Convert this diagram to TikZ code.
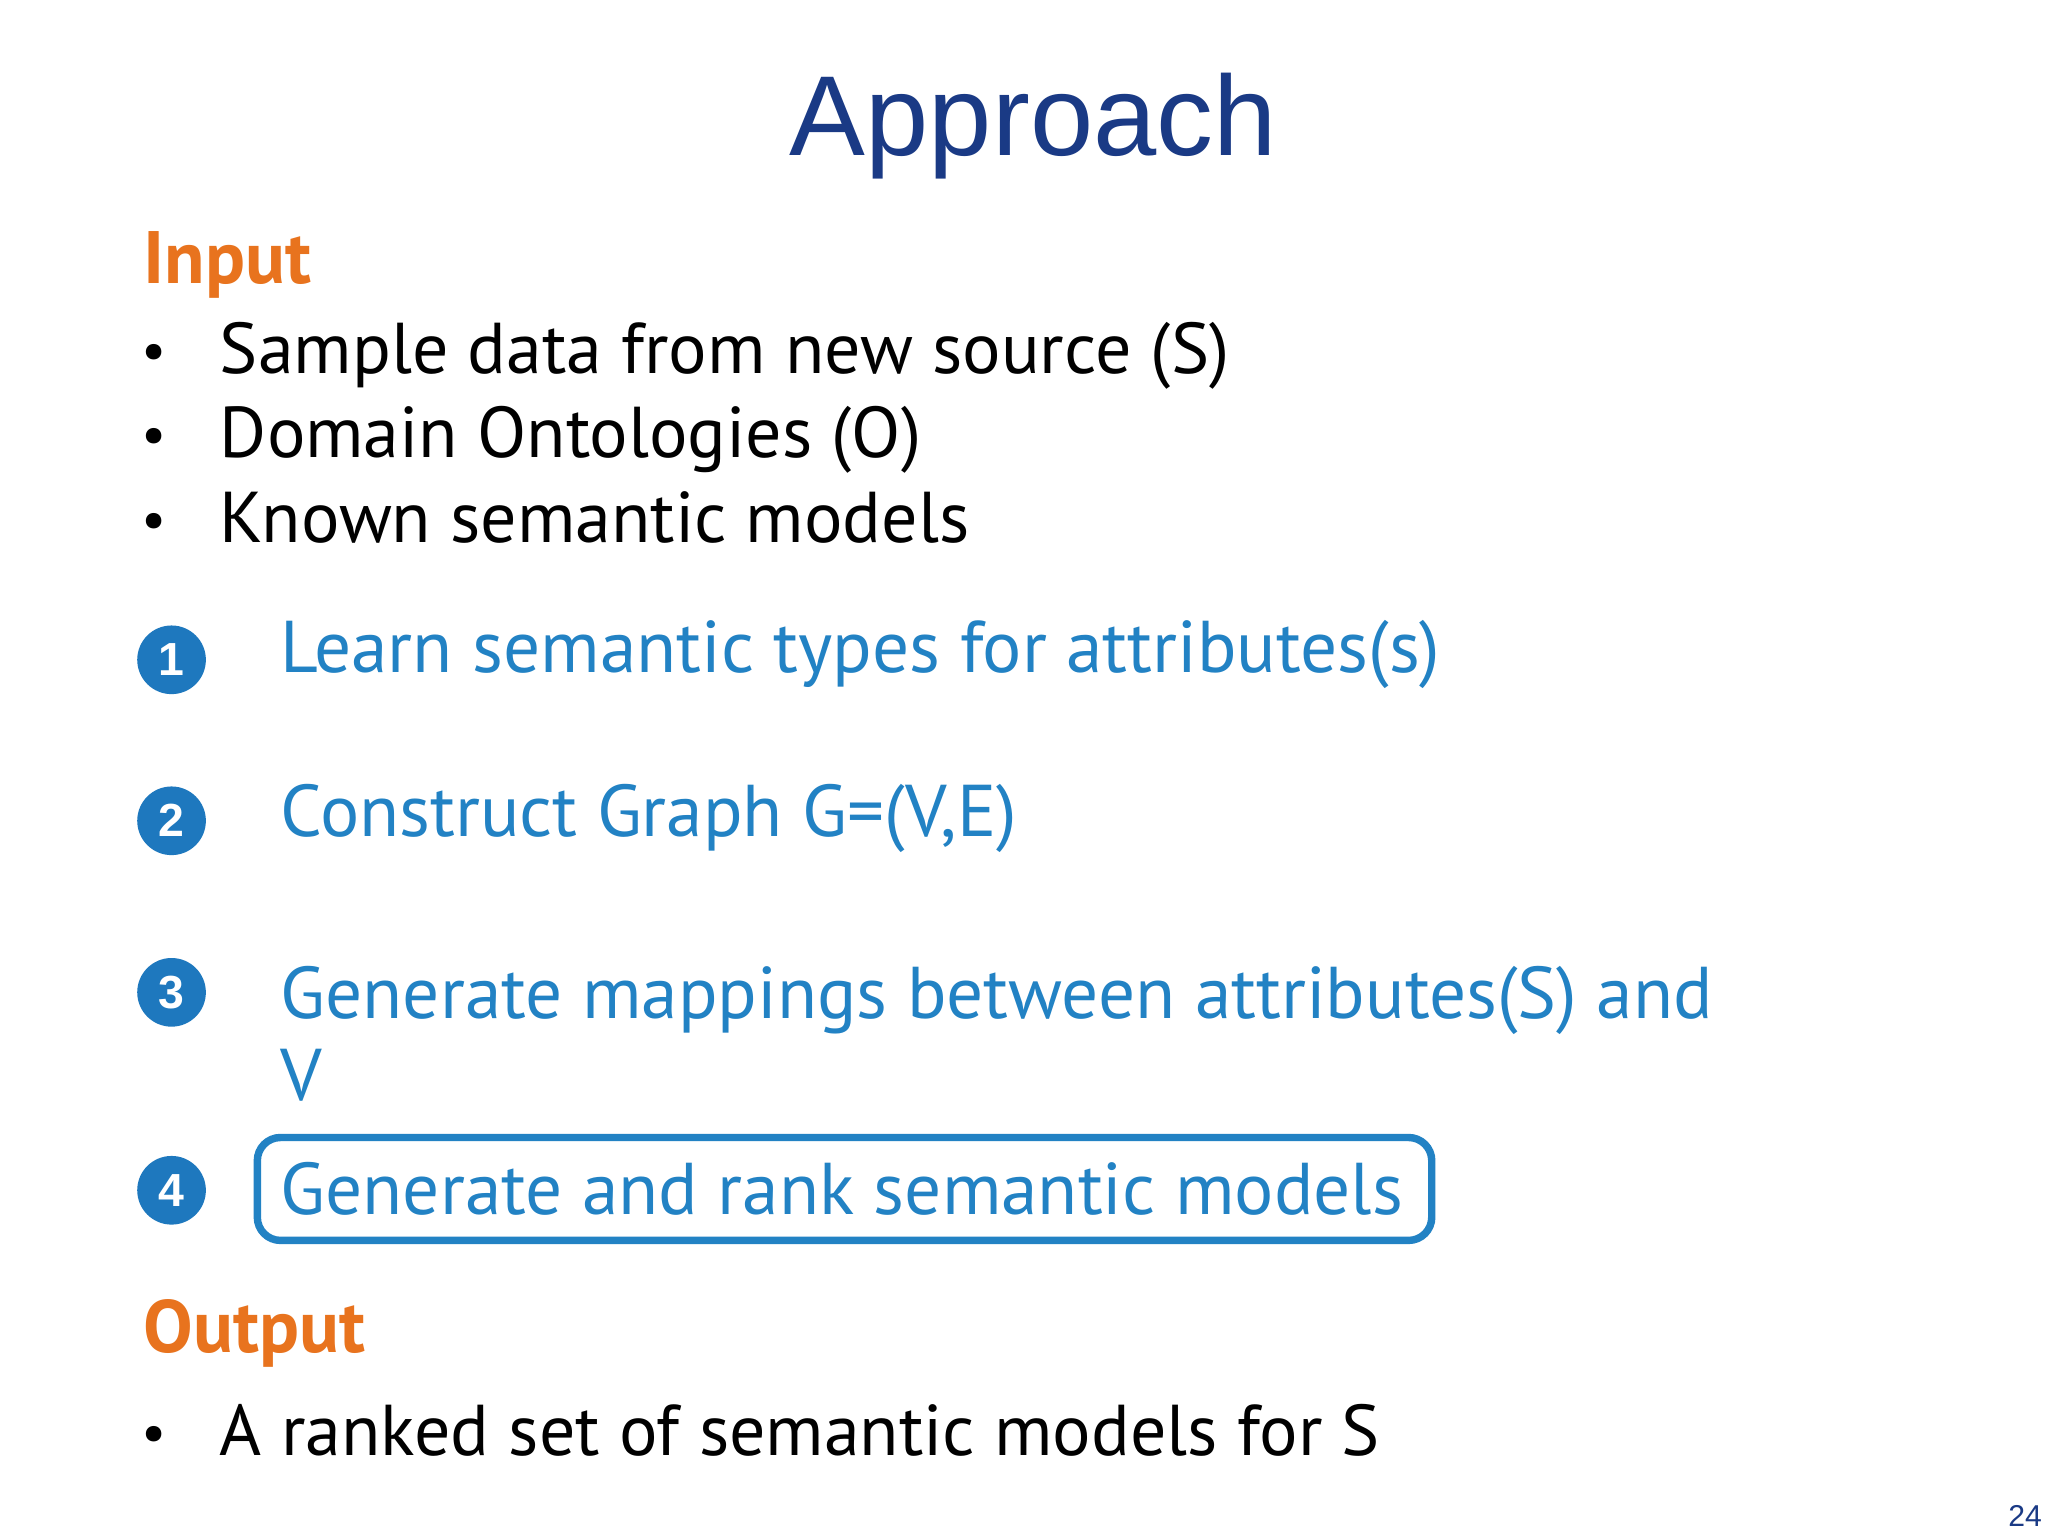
\documentclass[tikz,border=0pt]{standalone}
\usepackage{fontspec}
\setmainfont{PT Sans}
\newfontfamily\titlefont{Liberation Sans}
\definecolor{ttl}{HTML}{1A3A85}
\definecolor{org}{HTML}{E8731E}
\definecolor{stp}{HTML}{2282C4}
\definecolor{crc}{HTML}{1E78BE}
\begin{document}
\begin{tikzpicture}[x=0.01cm,y=-0.01cm,
  txt/.style={anchor=base west,inner sep=0pt,font=\fontsize{15.5}{18}\selectfont},
  dot/.style={anchor=base,inner sep=0pt,font=\fontsize{12}{14}\selectfont},
  head/.style={txt,text=org,font=\fontsize{16}{19}\selectfont\bfseries},
  stepx/.style={txt,text=stp,font=\fontsize{15.8}{18}\selectfont},
  num/.style={circle,fill=crc,text=white,minimum size=0.52cm,inner sep=0pt,font=\fontsize{10}{12}\selectfont\bfseries\titlefont}]
\useasboundingbox (0,0) rectangle (1552,1164);
\fill[white] (0,0) rectangle (1552,1164);
\node[anchor=base,text=ttl,font=\fontsize{24.5}{28}\selectfont\titlefont] (title) at (783,118) {Approach};
\node[head] (in) at (108,215) {Input};
\foreach \y/\t/\n in {283/Sample data from new source (S)/b1,347/Domain Ontologies (O)/b2,411/Known semantic models/b3}{
  \node[txt] (\n) at (166,\y) {\t};
  \node[dot] (\n d) at (117,\y-3) {•};
}
\node[num] (n1) at (130,500) {1};
\node[num] (n2) at (130,622) {2};
\node[num] (n3) at (130,752) {3};
\node[num] (n4) at (130,902) {4};
\node[stepx] (s1) at (212,510) {Learn semantic types for attributes(s)};
\node[stepx] (s2) at (212,634) {Construct Graph G=(V,E)};
\node[stepx] (s3) at (212,772) {Generate mappings between attributes(S) and};
\node[stepx] (s3b) at (212,834) {V};
\node[stepx] (s4) at (212,920) {Generate and rank semantic models};
\draw[stp,line width=1.6pt,rounded corners=5pt] (195,862) rectangle (1085,940);
\node[head] (out) at (108,1025) {Output};
\node[dot] (o1d) at (117,1100) {•};
\node[txt] (o1) at (166,1103) {A ranked set of semantic models for S};
\node[anchor=base east,inner sep=0pt,text=ttl,font=\fontsize{6.5}{8}\selectfont\titlefont] (pg) at (1548,1157) {24};
\end{tikzpicture}
\end{document}
